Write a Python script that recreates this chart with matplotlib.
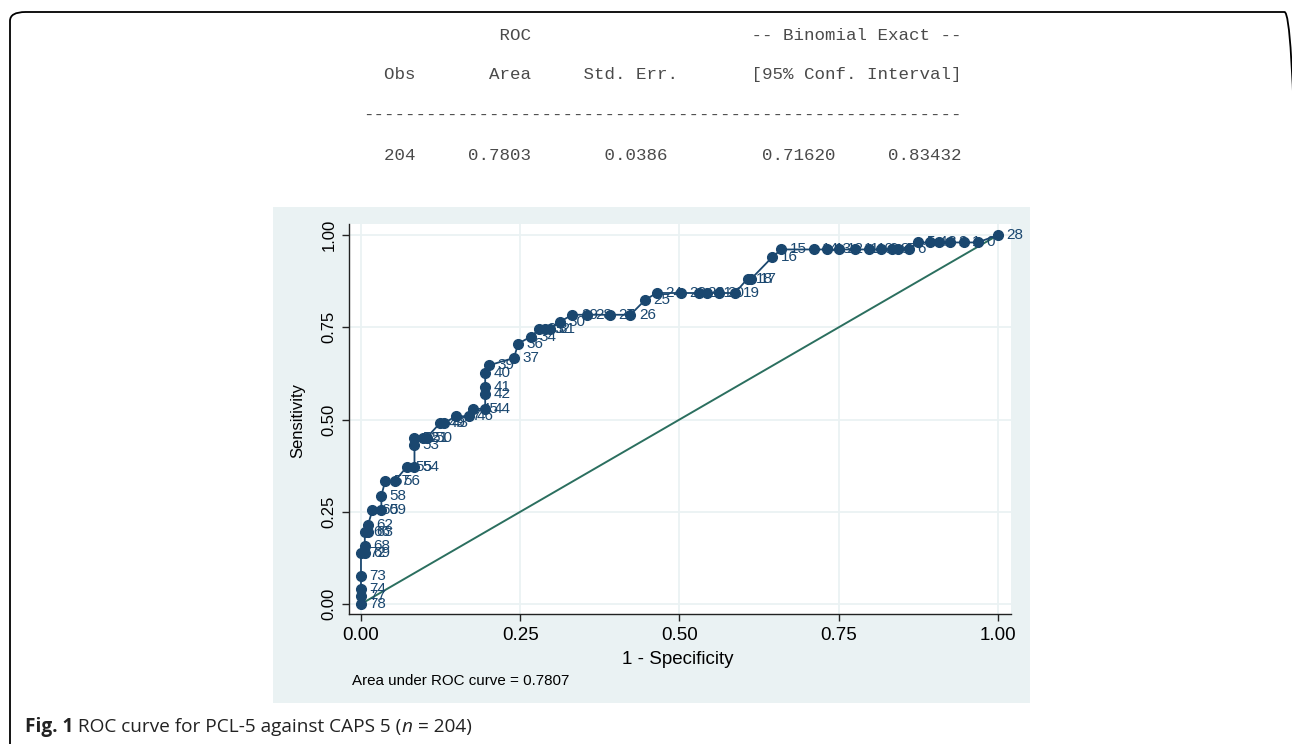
import matplotlib
matplotlib.use("Agg")
import matplotlib.pyplot as plt
from matplotlib.patches import FancyBboxPatch, Rectangle

# ROC points (1 - specificity, sensitivity) with their cutpoint labels
fpr = [0.000, 0.000, 0.000, 0.000, 0.000, 0.006, 0.006, 0.006, 0.011, 0.011,
       0.018, 0.032, 0.032, 0.038, 0.053, 0.072, 0.084, 0.084, 0.084, 0.097,
       0.103, 0.124, 0.130, 0.149, 0.169, 0.176, 0.195, 0.195, 0.195, 0.195,
       0.201, 0.240, 0.247, 0.267, 0.280, 0.289, 0.297, 0.312, 0.332, 0.355,
       0.391, 0.423, 0.446, 0.464, 0.502, 0.530, 0.543, 0.562, 0.587, 0.607,
       0.613, 0.646, 0.660, 0.711, 0.731, 0.750, 0.776, 0.797, 0.816, 0.834,
       0.843, 0.860, 0.875, 0.893, 0.907, 0.925, 0.946, 0.968, 1.000]
sens = [0.000, 0.021, 0.040, 0.077, 0.138, 0.138, 0.158, 0.195, 0.195, 0.215,
        0.254, 0.254, 0.294, 0.333, 0.333, 0.372, 0.372, 0.431, 0.451, 0.451,
        0.451, 0.490, 0.490, 0.509, 0.509, 0.529, 0.529, 0.568, 0.588, 0.627,
        0.647, 0.667, 0.706, 0.725, 0.745, 0.745, 0.745, 0.765, 0.784, 0.784,
        0.784, 0.784, 0.824, 0.843, 0.843, 0.843, 0.843, 0.843, 0.843, 0.882,
        0.882, 0.941, 0.961, 0.961, 0.961, 0.961, 0.961, 0.961, 0.961, 0.961,
        0.961, 0.961, 0.980, 0.980, 0.980, 0.980, 0.980, 0.980, 1.000]
cut_labels = ['78', '77', '74', '73', '72', '69', '68', '66', '63', '62',
              '60', '59', '58', '57', '56', '55', '54', '53', '52', '51',
              '50', '49', '48', '47', '46', '45', '44', '42', '41', '40',
              '39', '37', '36', '34', '33', '32', '31', '30', '29', '28',
              '27', '26', '25', '24', '23', '22', '21', '20', '19', '18',
              '17', '16', '15', '14', '13', '12', '11', '10', '9', '8',
              '7', '6', '5', '4', '3', '2', '1', '0', '28']
ticks = [0, 0.25, 0.5, 0.75, 1.0]
tick_labels = ['0.00', '0.25', '0.50', '0.75', '1.00']

table_lines = [
    ' ' * 13 + 'ROC' + ' ' * 21 + '-- Binomial Exact --',
    '  Obs' + ' ' * 7 + 'Area' + ' ' * 5 + 'Std. Err.' + ' ' * 7 + '[95% Conf. Interval]',
    '-' * 57,
    '  204' + ' ' * 5 + '0.7803' + ' ' * 7 + '0.0386' + ' ' * 9 + '0.71620' + ' ' * 5 + '0.83432',
]
auc_note = 'Area under ROC curve = 0.7807'

W, H = 1292, 744
navy = '#1a476f'
teal = '#2b6f5f'
bluegray = '#eaf2f3'

fig = plt.figure(figsize=(W / 100, H / 100), dpi=100)
fig.patch.set_facecolor('white')


def fx(px):
    return px / W


def fy(py):
    return 1 - py / H


# rounded frame around the figure
frame = FancyBboxPatch((fx(10), fy(760)), fx(1300) - fx(10), fy(12) - fy(760),
                       boxstyle='round,pad=0,rounding_size=0.012',
                       transform=fig.transFigure, fill=False,
                       edgecolor='black', linewidth=1.3)
fig.patches.append(frame)

# Stata-like output table
for i, line in enumerate(table_lines):
    fig.text(fx(363), fy(35 + 40 * i), line, family='Liberation Mono',
             fontsize=12.6, color='#4a4a4a', ha='left', va='center')

# graph region
fig.patches.append(Rectangle((fx(273), fy(703)), fx(1030) - fx(273), fy(207) - fy(703),
                             transform=fig.transFigure, facecolor=bluegray,
                             edgecolor='none', zorder=0))

ax = fig.add_axes([fx(349), fy(614), fx(1011) - fx(349), fy(224) - fy(614)])
ax.set_zorder(2)
ax.set_facecolor('white')
ax.set_xlim(-0.0188, 1.0204)
ax.set_ylim(-0.027, 1.030)
for s in ['top', 'right']:
    ax.spines[s].set_visible(False)
for s in ['left', 'bottom']:
    ax.spines[s].set_color('#222222')
    ax.spines[s].set_linewidth(1.0)

ax.set_xticks(ticks)
ax.set_xticklabels(tick_labels, family='Liberation Sans', fontsize=13.5)
ax.set_yticks(ticks)
ax.set_yticklabels(tick_labels, family='Liberation Sans', fontsize=12,
                   rotation=90, va='center')
ax.tick_params(length=5, width=1, color='#222222', pad=4)
ax.grid(True, color=bluegray, linewidth=1.3)
ax.set_axisbelow(True)

ax.plot([0, 1], [0, 1], color=teal, linewidth=1.4, zorder=2)
ax.plot(fpr, sens, color=navy, linewidth=1.3, marker='o', markersize=7,
        markerfacecolor=navy, markeredgecolor=navy, zorder=3)
for x, y, lab in zip(fpr, sens, cut_labels):
    ax.annotate(lab, (x, y), xytext=(6, 0), textcoords='offset points',
                ha='left', va='center', fontsize=11, color=navy,
                family='Liberation Sans', zorder=4)

fig.text(fx(678), fy(659), '1 - Specificity', family='Liberation Sans',
         fontsize=13.5, ha='center', va='center', color='black', zorder=3)
fig.text(fx(298), fy(420), 'Sensitivity', family='Liberation Sans',
         fontsize=12, ha='center', va='center', rotation=90, color='black', zorder=3)
fig.text(fx(352), fy(681), auc_note, family='Liberation Sans',
         fontsize=10.9, ha='left', va='center', color='black', zorder=3)

# caption, drawn piece by piece for mixed styles
fig.canvas.draw()
renderer = fig.canvas.get_renderer()
pieces = [('Fig. 1', 'bold', 'normal'), (' ROC curve for PCL-5 against CAPS 5 (', 'normal', 'normal'),
          ('n', 'normal', 'italic'), (' = 204)', 'normal', 'normal')]
xpos = 25
for txt, weight, style in pieces:
    t = fig.text(fx(xpos), fy(727), txt, family='Open Sans', fontsize=13.7,
                 weight=weight, style=style, ha='left', va='center', color='#222222')
    bb = t.get_window_extent(renderer)
    xpos += bb.width

fig.savefig('out.png', dpi=100)
